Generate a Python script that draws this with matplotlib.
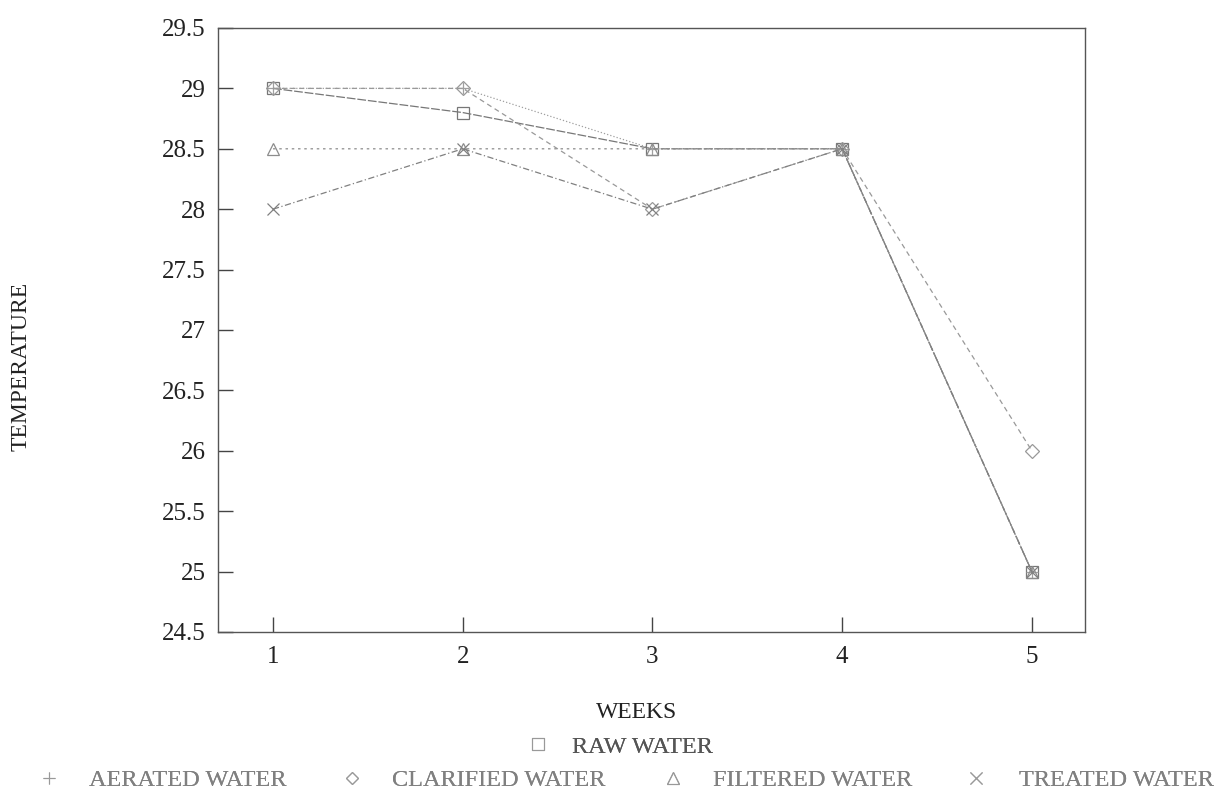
import matplotlib.pyplot as plt
from matplotlib.lines import Line2D

plt.rcParams['font.family'] = ['Liberation Serif', 'DejaVu Serif']

weeks = [1, 2, 3, 4, 5]
raw_water = [29, 28.8, 28.5, 28.5, 25]
aerated_water = [29, 29, 28.5, 28.5, 25]
clarified_water = [29, 29, 28, 28.5, 26]
filtered_water = [28.5, 28.5, 28.5, 28.5, 25]
treated_water = [28, 28.5, 28, 28.5, 25]
yticks = [24.5, 25, 25.5, 26, 26.5, 27, 27.5, 28, 28.5, 29, 29.5]

W, H = 1228, 801
fig = plt.figure(figsize=(W / 100, H / 100), dpi=100)
ax = fig.add_axes([218 / W, 1 - 632 / H, (1085 - 218) / W, (632 - 28) / H])

# series: label, values, marker, linestyle, colour
series = [
    ('RAW WATER', raw_water, 's', (0, (7, 1.5)), '#777777'),
    ('AERATED WATER', aerated_water, '+', ':', '#a0a0a0'),
    ('CLARIFIED WATER', clarified_water, 'D', (0, (4, 3)), '#999999'),
    ('FILTERED WATER', filtered_water, '^', (0, (2, 3)), '#8c8c8c'),
    ('TREATED WATER', treated_water, 'x', (0, (5, 2, 1, 2)), '#808080'),
]
handles = []
for name, vals, mk, ls, c in series:
    ax.plot(weeks, vals, linestyle=ls, color=c, lw=0.9, marker=mk,
            markersize=9 if mk != 'D' else 7, markerfacecolor='none',
            markeredgecolor=c, markeredgewidth=0.9)
    handles.append(Line2D([], [], linestyle='none', marker=mk, color='#999999',
                          markerfacecolor='none', markersize=8 if mk != 'D' else 6,
                          markeredgewidth=0.8, label=name))

ax.set_xlim(0.71, 5.28)
ax.set_ylim(24.5, 29.5)
ax.set_xticks(weeks)
ax.set_yticks(yticks)
ax.set_yticklabels([f'{v:g}' for v in yticks])
ax.tick_params(direction='in', length=11, width=1, colors='#444444', labelsize=18,
               labelcolor='#222222')
ax.tick_params(axis='x', pad=10)
ax.tick_params(axis='y', pad=9)
for s in ax.spines.values():
    s.set_color('#555555')
    s.set_linewidth(1)

fig.text(637 / W, 1 - 713 / H, 'WEEKS', ha='center', va='center', fontsize=17, color='#222222')
fig.text(21 / W, 1 - 366 / H, 'TEMPERATURE', ha='center', va='center', rotation=90,
         fontsize=17, color='#222222')

# legend entries placed one by one: marker x, row y, text pad, text colour
fs = 17.5
hl_px = fs * 100 / 72
entries = [(538, 747, 0.9, '#555555'), (49, 780, 1.15, '#808080'), (352, 780, 1.15, '#808080'),
           (673, 780, 1.15, '#808080'), (976, 780, 1.25, '#808080')]
for h, (mx, my, pad, tc) in zip(handles, entries):
    leg = fig.legend(handles=[h], loc='center left',
                     bbox_to_anchor=((mx - hl_px / 2) / W, 1 - my / H),
                     frameon=False, fontsize=fs, handlelength=1.0, handletextpad=pad,
                     borderpad=0, borderaxespad=0)
    for t in leg.get_texts():
        t.set_color(tc)
    fig.add_artist(leg)

fig.savefig('out.png', dpi=100)
